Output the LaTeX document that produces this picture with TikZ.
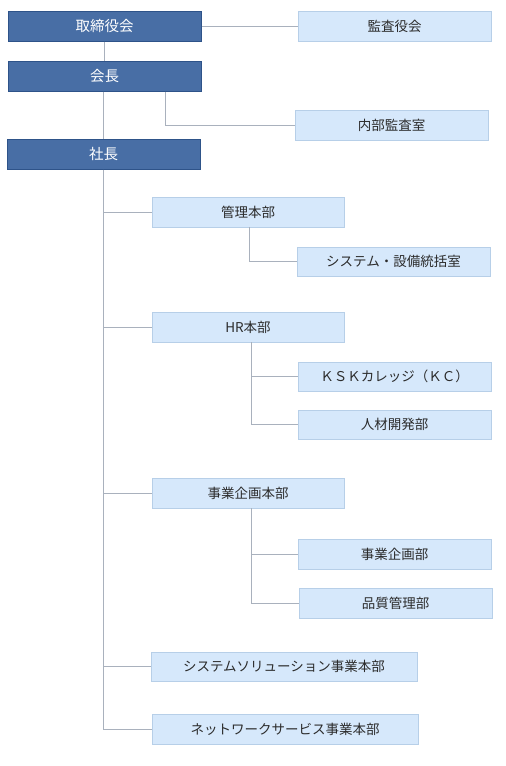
\documentclass[tikz,border=0pt]{standalone}
\usepackage{fontspec}
\newfontfamily\jp{Noto Sans CJK JP}
\definecolor{darkfill}{HTML}{486EA5}
\definecolor{darkline}{HTML}{2E5389}
\definecolor{lightfill}{HTML}{D6E8FB}
\definecolor{lightline}{HTML}{B7CFE8}
\definecolor{connline}{HTML}{A9B1BD}
\definecolor{txt}{HTML}{2B2B2B}
\begin{document}
\begin{tikzpicture}[x=1pt,y=-1pt,
  darkbox/.style={draw=darkline, fill=darkfill, text=white, line width=1pt,
    minimum height=30pt, minimum width=193pt, inner sep=0pt,
    font=\jp\fontsize{14.5}{15}\selectfont},
  lightbox/.style={draw=lightline, fill=lightfill, text=txt, line width=1pt,
    minimum height=29pt, minimum width=193pt, inner sep=0pt,
    font=\jp\fontsize{13.5}{14}\selectfont},
  conn/.style={draw=connline, line width=1pt}]
\useasboundingbox (0,0) rectangle (506,766);
\fill[white] (0,0) rectangle (506,766);

\node[darkbox] (torishimari) at (104.5,26) {取締役会};
\node[lightbox, minimum height=30pt] (kansayaku) at (394.5,26) {監査役会};
\node[darkbox] (kaicho) at (104.5,76) {会長};
\node[lightbox, minimum height=30pt] (naibu) at (391.5,125) {内部監査室};
\node[darkbox] (shacho) at (103.5,154) {社長};

\node[lightbox, minimum height=30pt, minimum width=192pt] (kanri) at (248,212) {管理本部};
\node[lightbox] (system) at (393.5,261.5) {システム・設備統括室};

\node[lightbox, minimum height=30pt, minimum width=192pt] (hr) at (248,327) {HR本部};
\node[lightbox] (ksk) at (394.5,376.5) {ＫＳＫカレッジ（ＫＣ）};
\node[lightbox] (jinzai) at (394.5,424.5) {人材開発部};

\node[lightbox, minimum height=30pt, minimum width=192pt] (jigyohon) at (248,493) {事業企画本部};
\node[lightbox, minimum height=30pt] (jigyobu) at (394.5,554) {事業企画部};
\node[lightbox, minimum height=30pt] (hinshitsu) at (395.5,603) {品質管理部};

\node[lightbox, minimum width=266pt] (solution) at (284,666.5) {システムソリューション事業本部};
\node[lightbox, minimum height=30pt, minimum width=266pt] (network) at (285,729) {ネットワークサービス事業本部};

% connectors
\draw[conn] (torishimari.east) -- (kansayaku.west);
\draw[conn] (torishimari.south) -- (kaicho.north);
\draw[conn] ([xshift=60.5pt]kaicho.south) |- (naibu.west);
\draw[conn] (kaicho.south -| shacho.south) -- (shacho.north);
\draw[conn] (shacho.south) |- (network.west);
\draw[conn] (shacho.south |- kanri.west) -- (kanri.west);
\draw[conn] (shacho.south |- hr.west) -- (hr.west);
\draw[conn] (shacho.south |- jigyohon.west) -- (jigyohon.west);
\draw[conn] (shacho.south |- solution.west) -- (solution.west);

\coordinate (kanriB) at (249,227);
\draw[conn] (kanriB) |- (system.west);
\coordinate (hrB) at (251,342);
\draw[conn] (hrB) |- (jinzai.west);
\draw[conn] (hrB |- ksk.west) -- (ksk.west);
\coordinate (jigyoB) at (251,508);
\draw[conn] (jigyoB) |- (hinshitsu.west);
\draw[conn] (jigyoB |- jigyobu.west) -- (jigyobu.west);
\end{tikzpicture}
\end{document}
